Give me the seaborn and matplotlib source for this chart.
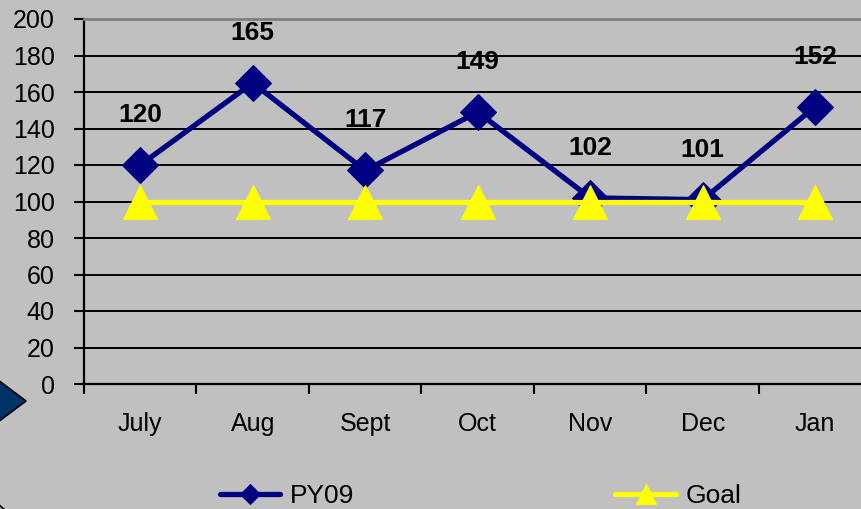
import pandas as pd
import matplotlib
matplotlib.use('Agg')
import matplotlib.pyplot as plt
from matplotlib.patches import Polygon, Arc
from matplotlib.transforms import IdentityTransform
import seaborn as sns

# chart data
months = ['July', 'Aug', 'Sept', 'Oct', 'Nov', 'Dec', 'Jan']
py09 = [120, 165, 117, 149, 102, 101, 152]
goal = [100, 100, 100, 100, 100, 100, 100]

W, H = 862, 509
bg = '#C0C0C0'

sns.set_style('white', {'axes.facecolor': bg, 'figure.facecolor': bg,
                        'text.color': 'black', 'xtick.color': 'black', 'ytick.color': 'black',
                        'xtick.bottom': True, 'ytick.left': True})
plt.rcParams['font.family'] = ['Liberation Sans', 'DejaVu Sans']

df = pd.DataFrame({'month': months, 'PY09': py09, 'Goal': goal})

fig = plt.figure(figsize=(W / 100, H / 100), dpi=100)
# plot area runs past the right edge like the original
ax = fig.add_axes([84 / W, 1 - 384 / H, 787.5 / W, 365 / H])

sns.lineplot(data=df, x='month', y='PY09', ax=ax, color='#000080', lw=3.8,
             marker='D', markersize=18, markeredgecolor='#000080', label='PY09', zorder=3)
sns.lineplot(data=df, x='month', y='Goal', ax=ax, color='#FFFF00', lw=3.8,
             marker='^', markersize=25, markeredgecolor='#FFFF00', label='Goal', zorder=4)

# value labels above the PY09 points
for i, v in enumerate(py09):
    ax.annotate(str(v), (i, v), xytext=(0, 36), textcoords='offset points',
                ha='center', va='center', fontsize=19, fontweight='bold', color='black')

ax.set_xlim(-0.5, 6.5)
ax.set_ylim(0, 200)
ax.set_yticks(range(0, 201, 20))
ax.set_xticks(range(7))
ax.set_xticks([i - 0.5 for i in range(8)], minor=True)
ax.set_xticklabels(months)
ax.tick_params(axis='x', which='major', bottom=False, length=0, pad=20, labelsize=18,
               labelcolor='black')
ax.tick_params(axis='x', which='minor', bottom=True, length=7, width=1.5, color='black',
               direction='out')
ax.tick_params(axis='y', left=True, length=7, width=1.5, color='black', direction='out',
               pad=14, labelsize=18, labelcolor='black')
ax.set_xlabel('')
ax.set_ylabel('')

for y in range(20, 200, 20):
    ax.axhline(y, color='black', lw=1.4, zorder=1)

for s in ['left', 'bottom']:
    ax.spines[s].set_color('black')
    ax.spines[s].set_linewidth(1.6)
for s in ['top', 'right']:
    ax.spines[s].set_color('#808080')
    ax.spines[s].set_linewidth(2)
    ax.spines[s].set_visible(True)

ax.get_legend().remove()
handles, labels = ax.get_legend_handles_labels()
leg = fig.legend(handles, labels, loc='center left', bbox_to_anchor=(196 / W, 1 - 496 / H),
                 ncol=2, frameon=False, fontsize=19, handlelength=2.3, handletextpad=0.35,
                 columnspacing=9.9, markerscale=0.55, labelcolor='black')

# blue arrow shape on the left edge
arrow = Polygon([(-10, H - 374), (26, H - 401), (-10, H - 428)], closed=True,
                facecolor='#003366', edgecolor='black', lw=1.2, transform=IdentityTransform())
fig.add_artist(arrow)

# corner of the rounded frame
corner = Arc((35, H - 470), 100, 100, theta1=180, theta2=270, color='black', lw=1.2,
             transform=IdentityTransform())
fig.add_artist(corner)

fig.savefig('out.png', dpi=100, facecolor=bg)
